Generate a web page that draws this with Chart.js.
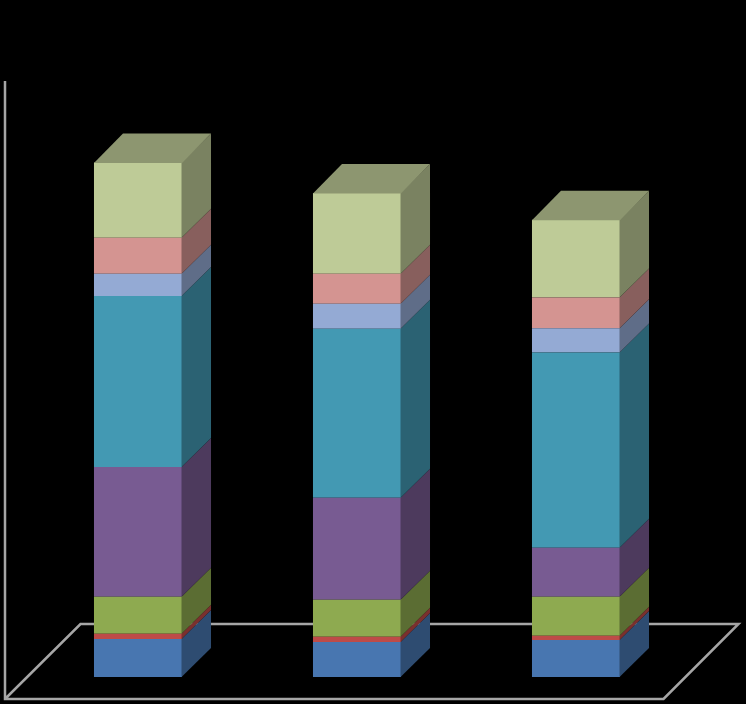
<!DOCTYPE html>
<html>
<head>
<meta charset="utf-8">
<title>Stacked 3D columns</title>
<script src="https://cdn.jsdelivr.net/npm/chart.js@4.4.1/dist/chart.umd.min.js"></script>
<style>
  html, body { margin: 0; padding: 0; background: #000; }
  #wrap { width: 746px; height: 704px; position: relative; }
</style>
</head>
<body>
<div id="wrap"><canvas id="stackChart"></canvas></div>
<script>
// categories and series (no labels are shown on the chart)
const categories = ['1', '2', '3'];
const seriesNames = ['Series 1', 'Series 2', 'Series 3', 'Series 4', 'Series 5', 'Series 6', 'Series 7', 'Series 8'];

// values per series, bottom to top, one value per category
const series1 = [7.4, 6.8, 7.2];
const series2 = [1.0, 1.0, 0.8];
const series3 = [7.2, 7.2, 7.6];
const series4 = [25.2, 19.8, 9.5];
const series5 = [33.2, 32.8, 37.9];
const series6 = [4.3, 4.9, 4.7];
const series7 = [7.0, 5.8, 6.0];
const series8 = [14.6, 15.7, 15.1];

const yMax = 120;

const allSeries = [series1, series2, series3, series4, series5, series6, series7, series8];
const frontColors = ['#4876B0', '#BE4B48', '#8EAA50', '#785B92', '#4399B3', '#94AAD4', '#D49491', '#BECB97'];

function shade(hex, f) {
  const n = parseInt(hex.slice(1), 16);
  const r = Math.round(((n >> 16) & 255) * f);
  const g = Math.round(((n >> 8) & 255) * f);
  const b = Math.round((n & 255) * f);
  return `rgb(${r},${g},${b})`;
}

// draws floor + wall edge behind the bars, then side and top faces
const fake3d = {
  id: 'fake3d',
  beforeDatasetsDraw(chart, args, opts) {
    const ctx = chart.ctx;
    const a = chart.chartArea;
    const xl = Math.round(a.left - 23.5);
    const yFront = a.bottom + 22;
    const yBack = a.bottom - 53;
    ctx.save();
    ctx.strokeStyle = opts.lineColor;
    ctx.lineWidth = 2.5;
    ctx.lineJoin = 'miter';
    ctx.beginPath();
    ctx.moveTo(xl, a.top + 22);
    ctx.lineTo(xl, yFront);
    ctx.lineTo(a.right - 22, yFront);
    ctx.lineTo(a.right + 53, yBack);
    ctx.lineTo(a.left + 52, yBack);
    ctx.lineTo(xl, yFront);
    ctx.stroke();
    ctx.restore();
  },
  afterDatasetsDraw(chart, args, opts) {
    const ctx = chart.ctx;
    const d = opts.depth;
    const last = chart.data.datasets.length - 1;
    ctx.save();
    chart.data.datasets.forEach((ds, i) => {
      const meta = chart.getDatasetMeta(i);
      meta.data.forEach(bar => {
        const p = bar.getProps(['x', 'y', 'base', 'width'], true);
        const left = p.x - p.width / 2;
        const right = p.x + p.width / 2;
        const top = Math.min(p.y, p.base);
        const bottom = Math.max(p.y, p.base);
        // side face
        ctx.fillStyle = shade(ds.backgroundColor, 0.64);
        ctx.beginPath();
        ctx.moveTo(right - 0.5, bottom);
        ctx.lineTo(right - 0.5, top);
        ctx.lineTo(right + d, top - d);
        ctx.lineTo(right + d, bottom - d);
        ctx.closePath();
        ctx.fill();
        // top face on the highest segment
        if (i === last) {
          ctx.fillStyle = shade(ds.backgroundColor, 0.74);
          ctx.beginPath();
          ctx.moveTo(left, top + 0.5);
          ctx.lineTo(left + d, top - d);
          ctx.lineTo(right + d, top - d);
          ctx.lineTo(right, top + 0.5);
          ctx.closePath();
          ctx.fill();
        }
      });
    });
    ctx.restore();
  }
};

const ctx = document.getElementById('stackChart').getContext('2d');
new Chart(ctx, {
  type: 'bar',
  data: {
    labels: categories,
    datasets: allSeries.map((vals, i) => ({
      label: seriesNames[i],
      data: vals,
      backgroundColor: frontColors[i],
      borderWidth: 0,
      barPercentage: 0.402,
      categoryPercentage: 1
    }))
  },
  options: {
    responsive: true,
    maintainAspectRatio: false,
    animation: false,
    layout: { padding: { left: 28.5, right: 60.5, top: 59, bottom: 27 } },
    plugins: {
      legend: { display: false },
      title: { display: false },
      tooltip: { enabled: false },
      fake3d: { depth: 29, lineColor: '#A6A6A6' }
    },
    scales: {
      x: { stacked: true, display: false },
      y: { stacked: true, display: false, min: 0, max: yMax }
    }
  },
  plugins: [fake3d]
});
</script>
</body>
</html>
